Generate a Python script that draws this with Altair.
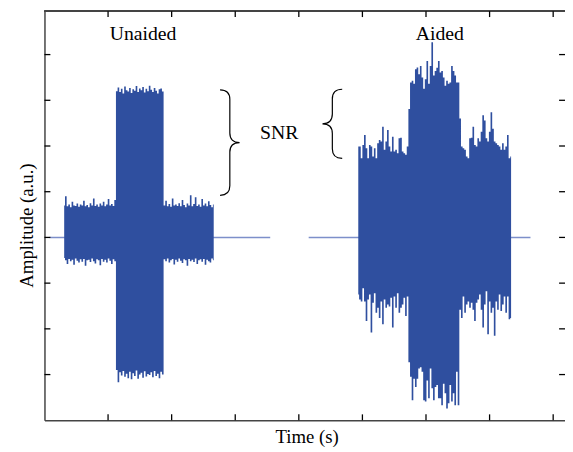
import altair as alt
import numpy as np
import pandas as pd

# ---------------- data ----------------
# sampled time grids (s)
un_start, un_step = 0.310, 0.02584
ai_start, ai_step = 4.935, 0.02584

# Unaided recording: upper / lower envelope of the waveform (a.u.)
unaided_hi = [0.70, 0.90, 0.68, 0.72, 0.66, 0.78, 0.70, 0.69, 0.74, 0.67, 0.72, 0.70, 0.80, 0.68, 0.71, 0.66,
              0.75, 0.70, 0.85, 0.69, 0.72, 0.67, 0.74, 0.70, 0.78, 0.68, 0.72, 0.84, 0.70, 0.73, 0.69, 0.82,
              3.20, 3.28, 3.18, 3.25, 3.15, 3.30, 3.22, 3.19, 3.27, 3.16, 3.24, 3.21, 3.31, 3.18, 3.26, 3.22,
              3.29, 3.17, 3.25, 3.20, 3.32, 3.23, 3.18, 3.27, 3.21, 3.15, 3.24, 3.26, 3.19,
              0.70, 0.80, 0.68, 0.73, 0.67, 0.85, 0.70, 0.72, 0.69, 0.75, 0.68, 0.82, 0.71, 0.66, 0.74, 0.70,
              0.92, 0.68, 0.73, 0.88, 0.69, 0.72, 0.67, 0.84, 0.70, 0.74, 0.68, 0.79, 0.71, 0.66, 0.72]
unaided_lo = [-0.45, -0.50, -0.58, -0.47, -0.52, -0.49, -0.60, -0.46, -0.51, -0.55, -0.48, -0.53, -0.47, -0.62, -0.50, -0.49,
              -0.54, -0.46, -0.52, -0.57, -0.48, -0.50, -0.61, -0.47, -0.53, -0.49, -0.55, -0.46, -0.51, -0.58, -0.48, -0.52,
              -2.90, -3.17, -2.95, -3.02, -2.92, -3.05, -2.98, -3.08, -2.94, -3.10, -2.97, -3.03, -2.91, -3.09, -3.00, -2.96,
              -3.07, -2.93, -3.04, -2.99, -3.01, -2.95, -3.06, -2.92, -3.03, -2.98, -3.08, -2.94, -3.00,
              -0.48, -0.52, -0.46, -0.55, -0.50, -0.47, -0.59, -0.49, -0.53, -0.46, -0.51, -0.56, -0.48, -0.50, -0.62, -0.47,
              -0.52, -0.49, -0.54, -0.46, -0.58, -0.50, -0.48, -0.53, -0.47, -0.60, -0.49, -0.52, -0.55, -0.46, -0.50]

# Aided recording
aided_hi = [1.99, 1.99, 1.73, 2.02, 2.24, 1.95, 1.73, 2.02, 1.99, 1.77, 1.95, 1.73, 2.06, 2.13, 2.10, 2.42,
            1.92, 2.10, 2.35, 1.99, 1.88, 2.20, 1.88, 1.92, 1.84, 2.17, 2.18, 1.88, 1.84, 1.81, 1.99,
            2.81, 3.39, 3.43, 3.36, 3.68, 3.72, 3.57, 3.75, 3.50, 3.25, 3.46, 3.86, 3.36, 3.75, 4.27, 3.54,
            3.64, 3.71, 3.86, 3.61, 3.64, 3.50, 3.32, 3.43, 3.36, 3.39, 3.75, 3.64, 3.54, 3.39, 3.39,
            2.60, 1.99, 1.95, 1.92, 1.77, 1.73, 2.17, 2.18, 2.42, 2.02, 1.99, 2.17, 2.10, 2.31, 2.67, 2.56,
            2.17, 2.10, 2.31, 2.74, 2.38, 2.10, 2.06, 2.02, 1.99, 1.92, 2.06, 1.92, 1.99, 2.24, 1.73, 1.77]
aided_lo = [-1.25, -1.36, -1.40, -1.11, -1.40, -1.83, -1.36, -1.25, -2.08, -1.43, -1.22, -1.65, -1.54, -1.76, -1.40, -1.90,
            -1.36, -1.54, -1.47, -1.51, -1.32, -1.97, -1.29, -1.54, -1.22, -1.65, -1.54, -1.47, -1.32, -1.72, -1.29,
            -2.73, -3.05, -3.56, -3.09, -3.27, -3.09, -2.87, -2.84, -2.94, -3.56, -3.59, -3.13, -3.52, -2.87, -3.30, -3.56,
            -3.27, -3.23, -3.52, -3.52, -3.67, -3.20, -3.41, -3.74, -3.63, -3.23, -3.59, -3.41, -3.67, -2.94, -3.67,
            -1.58, -1.76, -1.29, -1.65, -1.47, -1.40, -1.54, -1.43, -1.58, -1.83, -1.43, -1.36, -1.25, -1.58, -1.97, -1.47,
            -1.18, -2.12, -1.40, -1.65, -1.54, -2.15, -1.40, -1.58, -1.25, -1.61, -1.47, -1.29, -1.65, -1.29, -1.79, -1.76]

# silent baseline segments (s)
base_start = [0.08, 4.155]
base_end = [3.55, 7.643]

# axis ticks
x_ticks = [1, 2, 3, 4, 5, 6, 7, 8]
y_ticks = [-3, -2, -1, 0, 1, 2, 3, 4]

# annotations
labels = ["Unaided", "Aided", "SNR"]
label_x = [1.55, 6.217, 3.69]
label_y = [4.32, 4.32, 2.16]

brace_r_x, brace_r_y = [2.915], [2.075]   # "}" next to unaided
brace_l_x, brace_l_y = [4.527], [2.486]   # "{" next to aided

# ---------------- tables ----------------
un_t = un_start + un_step * np.arange(len(unaided_hi))
ai_t = ai_start + ai_step * np.arange(len(aided_hi))
wave = pd.DataFrame({
    "t": np.concatenate([un_t, ai_t]),
    "hi": unaided_hi + aided_hi,
    "lo": unaided_lo + aided_lo,
    "seg": ["unaided"] * len(unaided_hi) + ["aided"] * len(aided_hi),
})
base = pd.DataFrame({"s": base_start, "e": base_end, "z": [0, 0]})
xt = pd.DataFrame({"t": x_ticks})
yt = pd.DataFrame({"v": y_ticks})
lab = pd.DataFrame({"x": label_x, "y": label_y, "text": labels})

BLUE = "#2f4f9f"
FONT = "Liberation Serif"
FRAME = "#444444"
W, H = 528, 415

xs = alt.Scale(domain=[0, 8.186], nice=False, zero=False)
ys = alt.Scale(domain=[-4, 4.95], nice=False, zero=False)

area = alt.Chart(wave).mark_area(interpolate="step", color=BLUE, opacity=1).encode(
    x=alt.X("t:Q", scale=xs,
            axis=alt.Axis(orient="bottom", title="Time (s)", ticks=False, labels=False,
                          grid=False, titlePadding=8, titleX=266)),
    y=alt.Y("hi:Q", scale=ys,
            axis=alt.Axis(orient="left", title="Amplitude (a.u.)", ticks=False, labels=False,
                          grid=False, titlePadding=8, titleY=217)),
    y2="lo:Q", detail="seg:N")

baseline = alt.Chart(base).mark_rule(color="#7d8fca", strokeWidth=1.5).encode(
    x=alt.X("s:Q", scale=xs), x2="e:Q", y=alt.Y("z:Q", scale=ys))

top_line = alt.Chart(xt).mark_rule(color=FRAME, strokeWidth=1.5).encode(y=alt.value(0))

tick_style = dict(color="black", strokeWidth=1.3)
bottom_ticks = alt.Chart(xt).mark_rule(**tick_style).encode(
    x=alt.X("t:Q", scale=xs), y=alt.value(H), y2=alt.value(H - 6))
top_ticks = alt.Chart(xt).mark_rule(**tick_style).encode(
    x=alt.X("t:Q", scale=xs), y=alt.value(0), y2=alt.value(6))
left_ticks = alt.Chart(yt).mark_rule(**tick_style).encode(
    y=alt.Y("v:Q", scale=ys), x=alt.value(0), x2=alt.value(6))
right_ticks = alt.Chart(yt).mark_rule(**tick_style).encode(
    y=alt.Y("v:Q", scale=ys), x=alt.value(W - 6), x2=alt.value(W))

path_r = "M -0.185 -1 Q 0 -1 0 -0.82 L 0 -0.18 Q 0 0 0.185 0 Q 0 0 0 0.18 L 0 0.82 Q 0 1 -0.185 1"
path_l = "M 0.286 -1 Q 0 -1 0 -0.72 L 0 -0.28 Q 0 0 -0.286 0 Q 0 0 0 0.28 L 0 0.72 Q 0 1 0.286 1"

brace_r = alt.Chart(pd.DataFrame({"x": brace_r_x, "y": brace_r_y})).mark_point(
    shape=path_r, size=107 * 107, filled=False, color="black", strokeWidth=1.2, opacity=1).encode(
    x=alt.X("x:Q", scale=xs), y=alt.Y("y:Q", scale=ys))
brace_l = alt.Chart(pd.DataFrame({"x": brace_l_x, "y": brace_l_y})).mark_point(
    shape=path_l, size=70 * 70, filled=False, color="black", strokeWidth=1.2, opacity=1).encode(
    x=alt.X("x:Q", scale=xs), y=alt.Y("y:Q", scale=ys))

texts = alt.Chart(lab).mark_text(font=FONT, fontSize=20, color="black", align="center",
                                 baseline="alphabetic").encode(
    x=alt.X("x:Q", scale=xs), y=alt.Y("y:Q", scale=ys), text="text:N")

chart = alt.layer(baseline, area, top_line, bottom_ticks, top_ticks, left_ticks, right_ticks,
                  brace_r, brace_l, texts).properties(
    width=W, height=H,
    autosize=alt.AutoSizeParams(type="none"),
    padding={"left": 37, "top": 0, "right": 0, "bottom": 30},
).configure_view(stroke=None).configure_axis(
    domainColor=FRAME, domainWidth=1.5, titleFont=FONT, titleFontSize=19,
    titleFontWeight="normal", titleColor="black")

chart.save("out.html", embed_options={"renderer": "svg", "actions": False})
